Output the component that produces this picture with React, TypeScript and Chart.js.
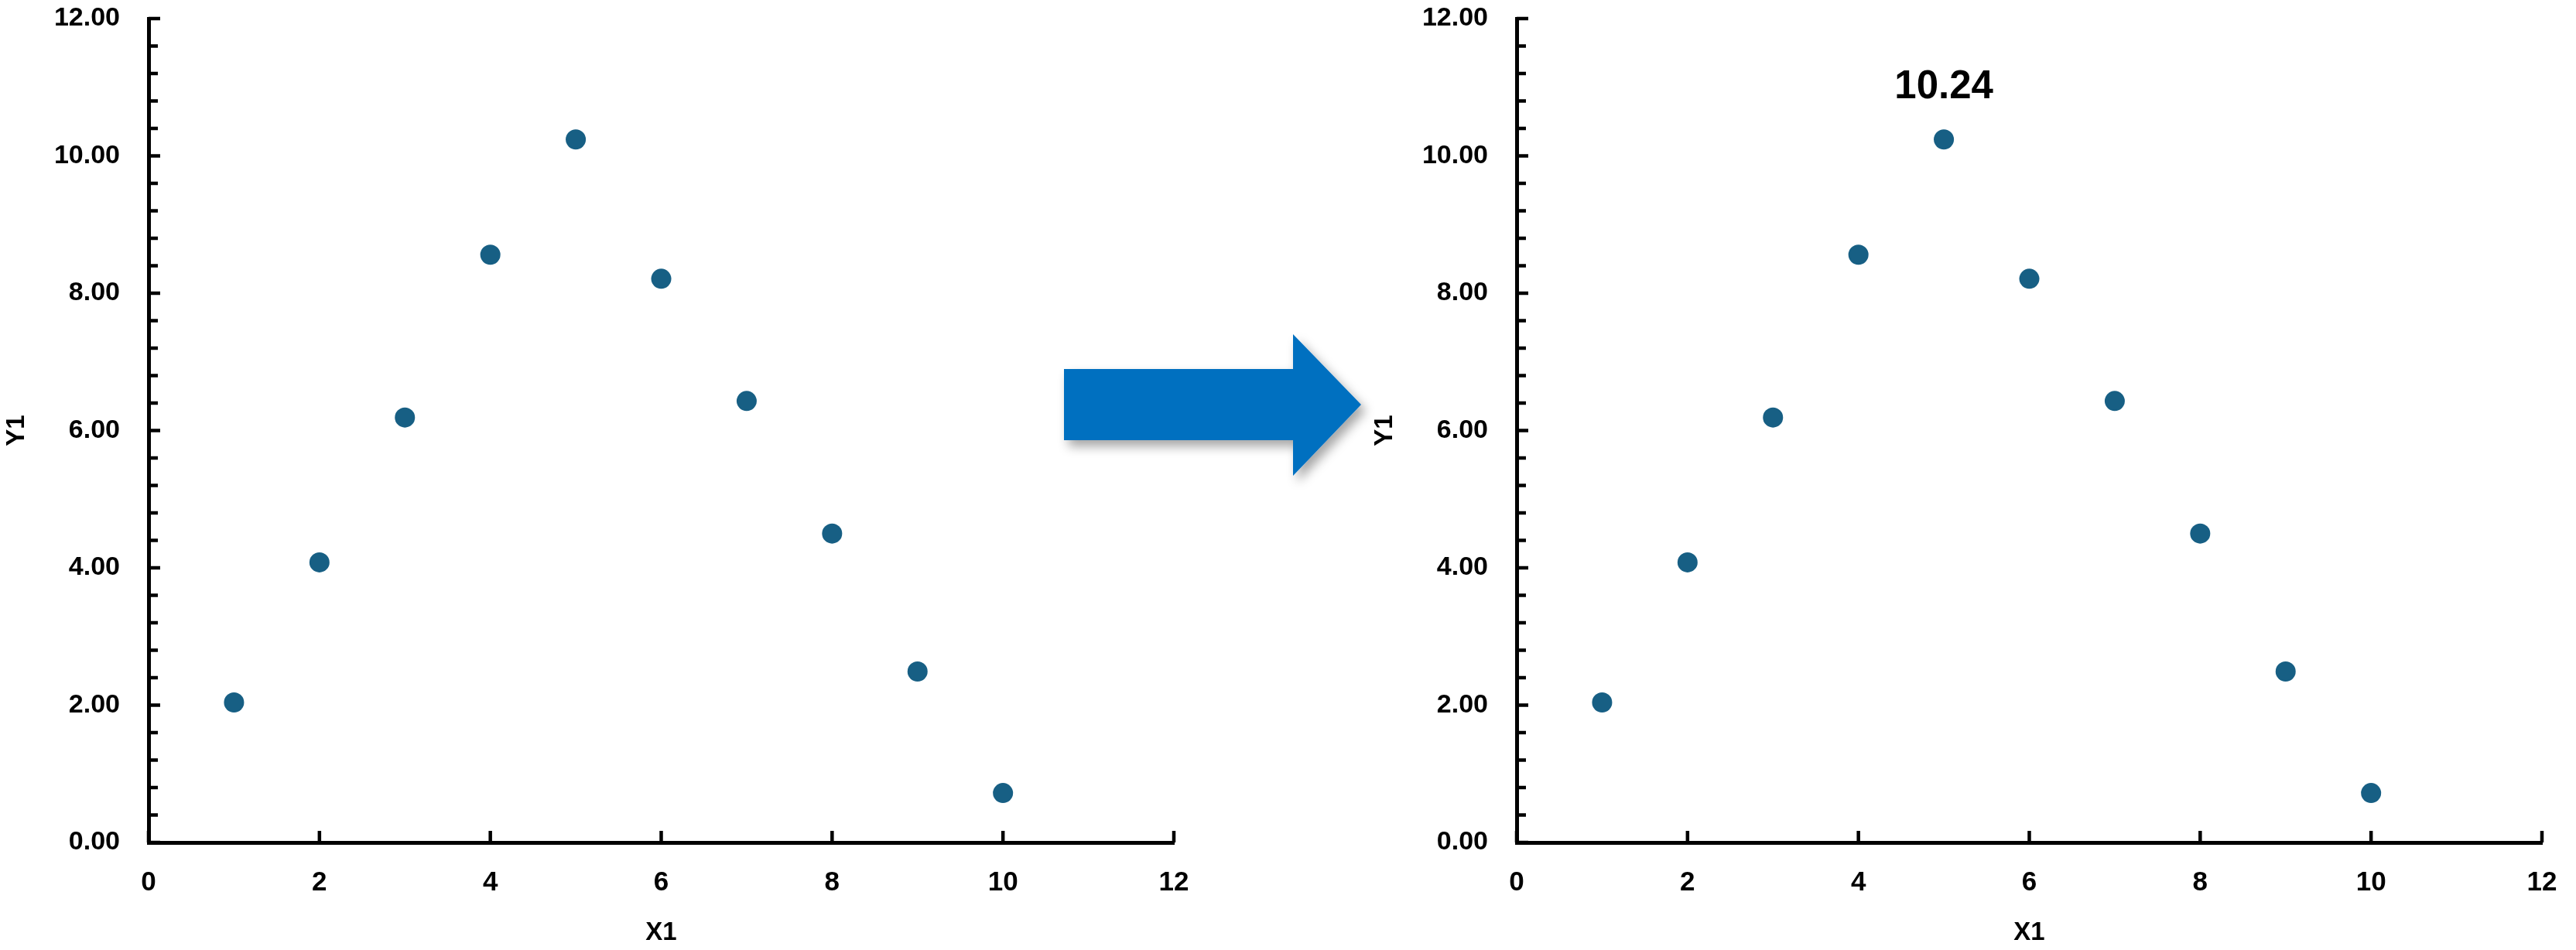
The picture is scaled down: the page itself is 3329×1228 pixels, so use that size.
import React, { useEffect, useRef } from 'react';
import { Chart, registerables } from 'chart.js';

Chart.register(...registerables);

// ---- data ----
const xValues = [1, 2, 3, 4, 5, 6, 7, 8, 9, 10];
const yValues = [2.04, 4.08, 6.19, 8.56, 10.24, 8.21, 6.43, 4.5, 2.49, 0.72];
const xTickValues = [0, 2, 4, 6, 8, 10, 12];
const yTickValues = [0, 2, 4, 6, 8, 10, 12];
const yMinorStep = 0.4;
const highlightIndex = 4;
const xTitle = 'X1';
const yTitle = 'Y1';

const FONT = '"Liberation Sans", Arial, sans-serif';
const POINT_COLOR = '#175f84';

const insideTicks = {
  id: 'insideTicks',
  afterDraw(chart: any) {
    const { ctx, chartArea, scales } = chart;
    const xs = scales.x;
    const ys = scales.y;
    ctx.save();
    ctx.strokeStyle = '#000';
    ctx.lineWidth = 4.5;
    ctx.lineCap = 'butt';
    const n = Math.round((ys.max - ys.min) / yMinorStep);
    for (let k = 0; k <= n; k++) {
      const v = ys.min + k * yMinorStep;
      const py = ys.getPixelForValue(v);
      const major = k % 5 === 0;
      ctx.beginPath();
      ctx.moveTo(chartArea.left, py);
      ctx.lineTo(chartArea.left + (major ? 15 : 12), py);
      ctx.stroke();
    }
    for (const v of xTickValues) {
      const px = xs.getPixelForValue(v);
      ctx.beginPath();
      ctx.moveTo(px, chartArea.bottom);
      ctx.lineTo(px, chartArea.bottom - 15);
      ctx.stroke();
    }
    ctx.restore();
  },
};

const valueLabel = {
  id: 'valueLabel',
  afterDatasetsDraw(chart: any, _args: any, opts: any) {
    if (!opts || !opts.show) return;
    const meta = chart.getDatasetMeta(0);
    const el = meta.data[highlightIndex];
    if (!el) return;
    const { ctx } = chart;
    ctx.save();
    ctx.font = `bold 51px ${FONT}`;
    ctx.fillStyle = '#000';
    ctx.textAlign = 'center';
    ctx.textBaseline = 'middle';
    ctx.fillText(yValues[highlightIndex].toFixed(2), el.x, el.y - 67);
    ctx.restore();
  },
};

const CW = 1560;
const CH = 1228;

const zeroPadding = (scale: any) => {
  scale.paddingTop = 0;
  scale.paddingBottom = 0;
  scale.paddingLeft = 0;
  scale.paddingRight = 0;
};

function ScatterPanel({ left, showLabel }: { left: number; showLabel: boolean }) {
  const ref = useRef<HTMLCanvasElement | null>(null);
  useEffect(() => {
    if (!ref.current) return;
    const chart = new Chart(ref.current, {
      type: 'scatter',
      data: {
        datasets: [
          {
            data: xValues.map((x, i) => ({ x, y: yValues[i] })),
            backgroundColor: POINT_COLOR,
            borderColor: POINT_COLOR,
            borderWidth: 0,
            pointRadius: 13,
            pointHoverRadius: 13,
          },
        ],
      },
      options: {
        animation: false,
        responsive: false,
        events: [],
        layout: { padding: { left: 0, top: 24, right: 43, bottom: 0 } },
        plugins: {
          legend: { display: false },
          tooltip: { enabled: false },
          valueLabel: { show: showLabel },
        } as any,
        scales: {
          x: {
            type: 'linear',
            min: 0,
            max: 12,
            grid: { display: false, drawTicks: false },
            border: { display: true, color: '#000', width: 5 },
            afterBuildTicks: (scale: any) => {
              scale.ticks = xTickValues.map((v) => ({ value: v }));
            },
            ticks: {
              color: '#000',
              padding: 35,
              font: { family: FONT, size: 35, weight: 'bold', lineHeight: 1 },
              callback: (v: any) => String(v),
            },
            title: {
              display: true,
              text: xTitle,
              color: '#000',
              font: { family: FONT, size: 33, weight: 'bold', lineHeight: 1 },
              padding: { top: 0, bottom: 6 },
            },
            afterFit: (scale: any) => {
              scale.height = CH - 1089;
              zeroPadding(scale);
            },
          },
          y: {
            type: 'linear',
            min: 0,
            max: 12,
            grid: { display: false, drawTicks: false },
            border: { display: true, color: '#000', width: 5 },
            afterBuildTicks: (scale: any) => {
              scale.ticks = yTickValues.map((v) => ({ value: v }));
            },
            ticks: {
              color: '#000',
              padding: 37,
              font: { family: FONT, size: 34, weight: 'bold', lineHeight: 1 },
              callback: (v: any) => Number(v).toFixed(2),
            },
            title: {
              display: true,
              text: yTitle,
              color: '#000',
              font: { family: FONT, size: 33, weight: 'bold', lineHeight: 1 },
              padding: { top: 5, bottom: 0 },
            },
            afterFit: (scale: any) => {
              scale.width = 192;
              zeroPadding(scale);
            },
          },
        },
      },
      plugins: [insideTicks, valueLabel],
    } as any);
    return () => chart.destroy();
  }, [showLabel]);

  return (
    <canvas
      ref={ref}
      width={CW}
      height={CH}
      style={{ position: 'absolute', left, top: 0, width: CW, height: CH }}
    />
  );
}

function Arrow() {
  return (
    <svg
      width={3329}
      height={1228}
      style={{ position: 'absolute', left: 0, top: 0, pointerEvents: 'none' }}
    >
      <defs>
        <filter id="arrowShadow" x="-20%" y="-20%" width="150%" height="150%">
          <feDropShadow dx="6" dy="8" stdDeviation="7" floodColor="#000" floodOpacity="0.35" />
        </filter>
      </defs>
      <polygon
        points="1375,477 1671,477 1671,432 1759,523 1671,615 1671,569 1375,569"
        fill="#0070C0"
        filter="url(#arrowShadow)"
      />
    </svg>
  );
}

export default function App() {
  return (
    <div
      style={{
        position: 'absolute',
        left: 0,
        top: 0,
        width: 3329,
        height: 1228,
        background: '#fff',
        overflow: 'hidden',
      }}
    >
      <ScatterPanel left={0} showLabel={false} />
      <ScatterPanel left={1768} showLabel={true} />
      <Arrow />
    </div>
  );
}
